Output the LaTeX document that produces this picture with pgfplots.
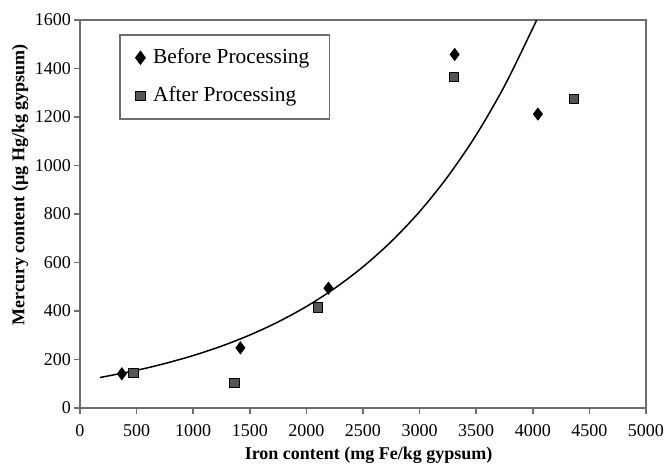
\documentclass[border=0pt]{standalone}
\usepackage{pgfplots}
\pgfplotsset{compat=1.18}
\usepackage{fontspec}
\setmainfont{Liberation Serif}
\definecolor{axgray}{RGB}{110,110,110}
\definecolor{sqfill}{RGB}{85,85,85}
\begin{document}
\begin{tikzpicture}
\begin{axis}[
  scale only axis,
  width=283pt, height=194pt,
  xmin=0, xmax=5000, ymin=0, ymax=1600,
  xtick={0,500,...,5000}, ytick={0,200,...,1600},
  /pgf/number format/assume math mode=true,
  /pgf/number format/1000 sep={},
  tick label style={font=\fontsize{9}{10}\selectfont},
  xticklabel style={yshift=-1.5pt},
  yticklabel style={xshift=2pt},
  tick align=outside, tick pos=left,
  major tick length=3pt,
  axis line style={axgray, line width=1pt},
  every tick/.style={axgray, line width=0.8pt},
  xlabel={\bfseries Iron content (mg Fe/kg gypsum)},
  ylabel={\bfseries Mercury content (µg Hg/kg gypsum)},
  label style={font=\fontsize{9}{10}\selectfont},
  xlabel style={at={(axis description cs:0.51,0)}, anchor=center, yshift=-23.5pt},
  ylabel style={at={(axis description cs:0,0.575)}, anchor=center, yshift=30pt},
  legend style={at={(rel axis cs:0.069,0.964)}, anchor=north west,
    draw=axgray, line width=0.8pt, font=\fontsize{10.7}{12}\selectfont,
    row sep=6pt, inner xsep=8pt, inner ysep=5pt},
  legend cell align=left,
]
\addplot[only marks, mark=diamond*, mark size=3pt, black, mark options={fill=black}]
  coordinates {(370,141) (1417,248) (2195,494) (3310,1458) (4045,1212)};
\addlegendentry{\hspace{2pt}Before Processing\hspace{10pt}}
\addplot[only marks, mark=square*, mark size=2.3pt, black, mark options={fill=sqfill, draw=black, line width=0.4pt}]
  coordinates {(472,146) (1364,104) (2104,415) (3300,1366) (4366,1274)};
\addlegendentry{\hspace{2pt}After Processing}
\addplot[black, line width=0.75pt, smooth, forget plot]
  coordinates {(176,125.6) (500,155.5) (750,183.4) (1000,216.3) (1250,255.1)
  (1500,300.9) (1750,354.9) (2000,418.5) (2250,493.6) (2500,582.1)
  (2750,686.6) (3000,809.7) (3250,955.1) (3500,1126) (3750,1328)
  (4000,1566) (4033,1600)};
\end{axis}
\pgfresetboundingbox
\path[use as bounding box] (-40pt,-28pt) rectangle (292.5pt,204pt);
\end{tikzpicture}
\end{document}
